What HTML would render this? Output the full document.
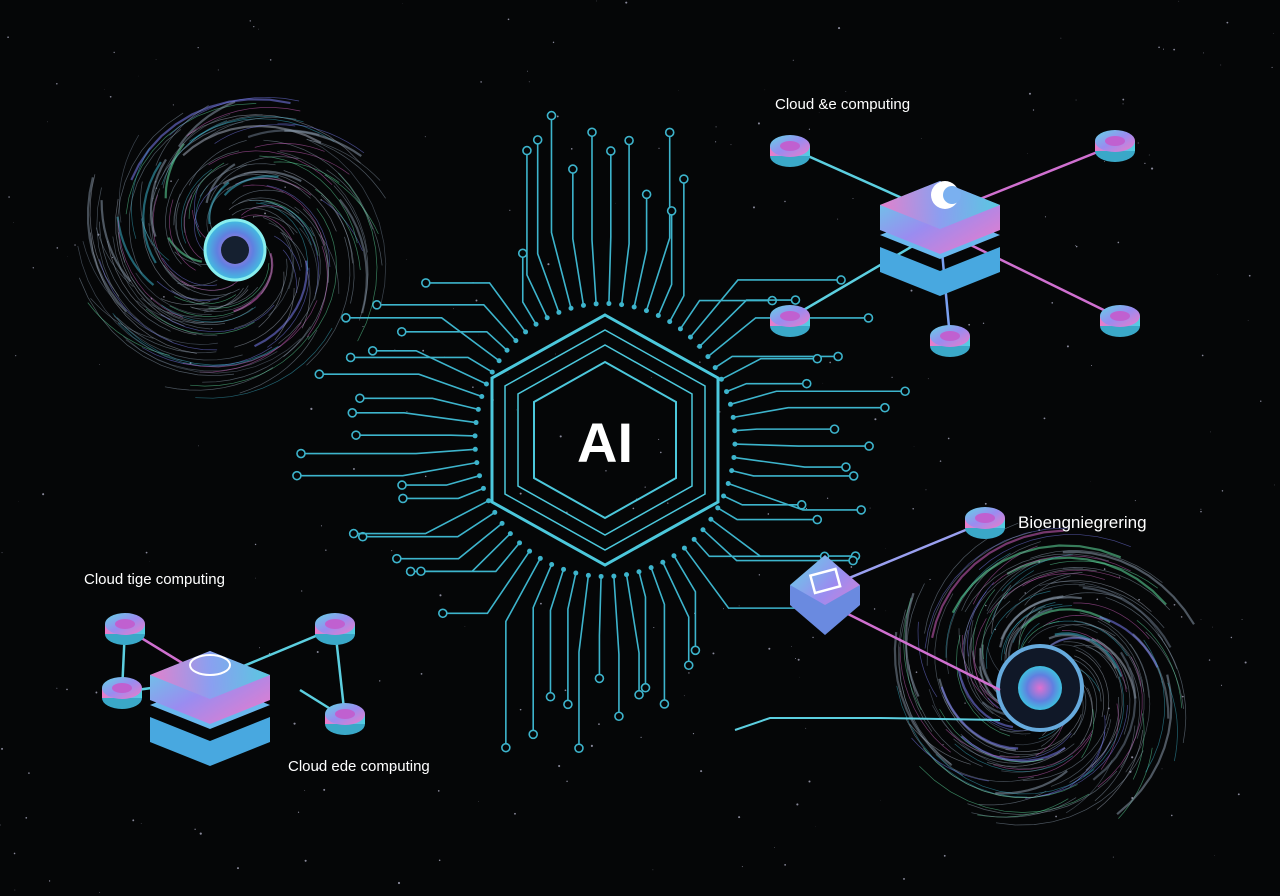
<!DOCTYPE html>
<html><head><meta charset="utf-8"><style>
html,body{margin:0;padding:0;background:#050607;}
svg{display:block}
text{font-family:"Liberation Sans",sans-serif;}
</style></head><body>
<svg id="s" width="1280" height="896" viewBox="0 0 1280 896" xmlns="http://www.w3.org/2000/svg">
<defs>
<linearGradient id="g1" x1="0" y1="0" x2="1" y2="1"><stop offset="0" stop-color="#5fd6e6"/><stop offset="0.5" stop-color="#9a8cf0"/><stop offset="1" stop-color="#f07ac8"/></linearGradient>
<linearGradient id="g2" x1="0" y1="0" x2="1" y2="0"><stop offset="0" stop-color="#f07ac8"/><stop offset="0.5" stop-color="#8aa0f0"/><stop offset="1" stop-color="#4fd0e0"/></linearGradient>
<radialGradient id="rg"><stop offset="0" stop-color="#e070d0"/><stop offset="0.6" stop-color="#6080e0"/><stop offset="1" stop-color="#40c0e0"/></radialGradient>
</defs>
<rect width="1280" height="896" fill="#050607"/>
<g id="stars"></g>
<g id="circ" stroke="#3db4cc" stroke-width="1.6" fill="none"></g>
<g id="sp"></g>
<g fill="none" stroke="#4cc8dc">
<polygon points="605,315 718,378 718,502 605,565 492,502 492,378" stroke-width="3"/>
<polygon points="605,330 705,386 705,494 605,550 505,494 505,386" stroke-width="1.5"/>
<polygon points="605,345 692,394 692,486 605,535 518,486 518,394" stroke-width="1.5"/>
<polygon points="605,362 676,402 676,478 605,518 534,478 534,402" stroke-width="2"/>
</g>
<text x="605" y="462" fill="#fff" font-size="56" text-anchor="middle" font-weight="bold">AI</text>
<g stroke-width="2.5">
<line x1="940" y1="215" x2="790" y2="148" stroke="#5ccfe0"/>
<line x1="940" y1="215" x2="1115" y2="145" stroke="#d070d0"/>
<line x1="940" y1="230" x2="790" y2="318" stroke="#5ccfe0"/>
<line x1="940" y1="230" x2="950" y2="338" stroke="#7aa0f0"/>
<line x1="940" y1="230" x2="1120" y2="318" stroke="#d070d0"/>
</g>
<g id="cubes"></g>
<text x="775" y="109" fill="#fff" font-size="15">Cloud &amp;e computing</text>
<text x="84" y="584" fill="#fff" font-size="15">Cloud tige computing</text>
<text x="288" y="771" fill="#fff" font-size="15">Cloud ede computing</text>
<text x="1018" y="528" fill="#fff" font-size="17">Bioengniegrering</text>
</svg>
<script>
var NS="http://www.w3.org/2000/svg";
function el(t,a,p){var e=document.createElementNS(NS,t);for(var k in a)e.setAttribute(k,a[k]);(p||document.getElementById('s')).appendChild(e);return e;}
var rnd=(function(){var s=7;return function(){s=(s*16807)%2147483647;return s/2147483647;}})();
var st=document.getElementById('stars');
for(var i=0;i<300;i++)el('circle',{cx:rnd()*1280,cy:rnd()*896,r:rnd()*0.9+0.2,fill:'#889'},st);
var c=document.getElementById('circ');
var cx=605,cy=440;
for(var i=0;i<64;i++){
 var a=i/64*Math.PI*2+0.03;
 var r0=130,r1=150+rnd()*60,len=40+rnd()*90;
 var x0=cx+Math.cos(a)*r0,y0=cy+Math.sin(a)*r0*1.05;
 var x1=cx+Math.cos(a)*r1,y1=cy+Math.sin(a)*r1*1.05;
 var x2,y2;
 if(Math.abs(Math.cos(a))>0.55){x2=x1+Math.sign(Math.cos(a))*len;y2=y1;}
 else{x2=x1;y2=y1+Math.sign(Math.sin(a))*len;}
 el('polyline',{points:x0+','+y0+' '+x1+','+y1+' '+x2+','+y2},c);
 el('circle',{cx:x2,cy:y2,r:4,fill:'#050607'},c);
 el('circle',{cx:x0,cy:y0,r:2.5,fill:'#3db4cc',stroke:'none'},c);
}
var sp=document.getElementById('sp');
var cols=['#8899aa','#7a8898','#3ab0c8','#8899aa','#7a7ef0','#a0aab8','#d060c0','#8899aa','#60e0a0','#6a7888'];
function spiral(x,y,R){
 for(var i=0;i<180;i++){
  var r=25+rnd()*R,a0=rnd()*Math.PI*2,da=0.5+rnd()*1.0;
  var pts=[];
  for(var k=0;k<=10;k++){var a=a0+da*k/10;var rr=r+k*3;pts.push((x+Math.cos(a)*rr).toFixed(1)+','+(y+Math.sin(a)*rr).toFixed(1));}
  el('polyline',{points:pts.join(' '),fill:'none',stroke:cols[i%10],'stroke-width':rnd()<0.15?2.2:0.7,opacity:0.55},sp);
 }
}
spiral(235,245,105);spiral(1045,680,105);
el('circle',{cx:235,cy:250,r:30,fill:'url(#rg)',stroke:'#8ee',"stroke-width":3},sp);
el('circle',{cx:235,cy:250,r:14,fill:'#152030'},sp);
el('circle',{cx:1040,cy:688,r:42,fill:'#101828',stroke:'#6ad',"stroke-width":4},sp);
el('circle',{cx:1040,cy:688,r:22,fill:'url(#rg)'},sp);
el('polyline',{points:'735,730 770,718 880,718 1000,720',fill:'none',stroke:'#5ccfe0','stroke-width':2},sp);
var g=document.getElementById('cubes');
[[210,680,125,628,'#d070d0'],[210,680,335,628,'#5ccfe0'],[210,680,122,692,'#5ccfe0'],[300,690,345,718,'#5ccfe0'],[335,628,345,718,'#5ccfe0'],[125,628,122,692,'#5ccfe0'],[820,590,985,522,'#9aa0f0'],[820,600,1000,690,'#d070d0']].forEach(function(l){el('line',{x1:l[0],y1:l[1],x2:l[2],y2:l[3],stroke:l[4],'stroke-width':2.5},g);});
function node(x,y,s){s=s||1;
 el('ellipse',{cx:x,cy:y+6*s,rx:20*s,ry:11*s,fill:'#3aa8c8'},g);
 el('rect',{x:x-20*s,y:y-4*s,width:40*s,height:10*s,fill:'url(#g2)'},g);
 el('ellipse',{cx:x,cy:y-4*s,rx:20*s,ry:11*s,fill:'url(#g1)'},g);
 el('ellipse',{cx:x,cy:y-4*s,rx:10*s,ry:5*s,fill:'#c060d0'},g);}
function cube(x,y,w,h){
 el('polygon',{points:(x-w)+','+(y+h*0.3)+' '+x+','+(y+h*0.3+w*0.4)+' '+(x+w)+','+(y+h*0.3)+' '+(x+w)+','+(y+h*0.3+25)+' '+x+','+(y+h*0.3+w*0.4+25)+' '+(x-w)+','+(y+h*0.3+25),fill:'#48a8e0'},g);
 el('polygon',{points:(x-w)+','+y+' '+x+','+(y-w*0.4)+' '+(x+w)+','+y+' '+x+','+(y+w*0.4),fill:'#6ab8ee'},g);
 el('polygon',{points:(x-w)+','+(y-30)+' '+x+','+(y-30-w*0.4)+' '+(x+w)+','+(y-30)+' '+(x+w)+','+(y-5)+' '+x+','+(y-5+w*0.4)+' '+(x-w)+','+(y-5),fill:'url(#g1)'},g);
 el('polygon',{points:(x-w)+','+(y-30)+' '+x+','+(y-30-w*0.4)+' '+(x+w)+','+(y-30)+' '+x+','+(y-30+w*0.4),fill:'url(#g2)',opacity:0.9},g);
}
cube(940,235,60,40);
el('circle',{cx:945,cy:195,r:14,fill:'#fff'},g);el('circle',{cx:952,cy:195,r:9,fill:'#7ab0f0'},g);
cube(210,705,60,40);
el('ellipse',{cx:210,cy:665,rx:20,ry:10,fill:'none',stroke:'#fff','stroke-width':2},g);
el('polygon',{points:'790,585 825,555 860,585 825,630',fill:'url(#g1)'},g);
el('polygon',{points:'790,585 825,605 860,585 860,605 825,635 790,605',fill:'#6a8ae0'},g);
el('rect',{x:812,y:572,width:26,height:18,fill:'none',stroke:'#fff','stroke-width':2.5,transform:'rotate(-15 825 580)'},g);
[[790,150],[1115,145],[790,320],[950,340],[1120,320],[125,628],[335,628],[122,692],[345,718],[985,522]].forEach(function(p){node(p[0],p[1],1);});
</script>
</body></html>
